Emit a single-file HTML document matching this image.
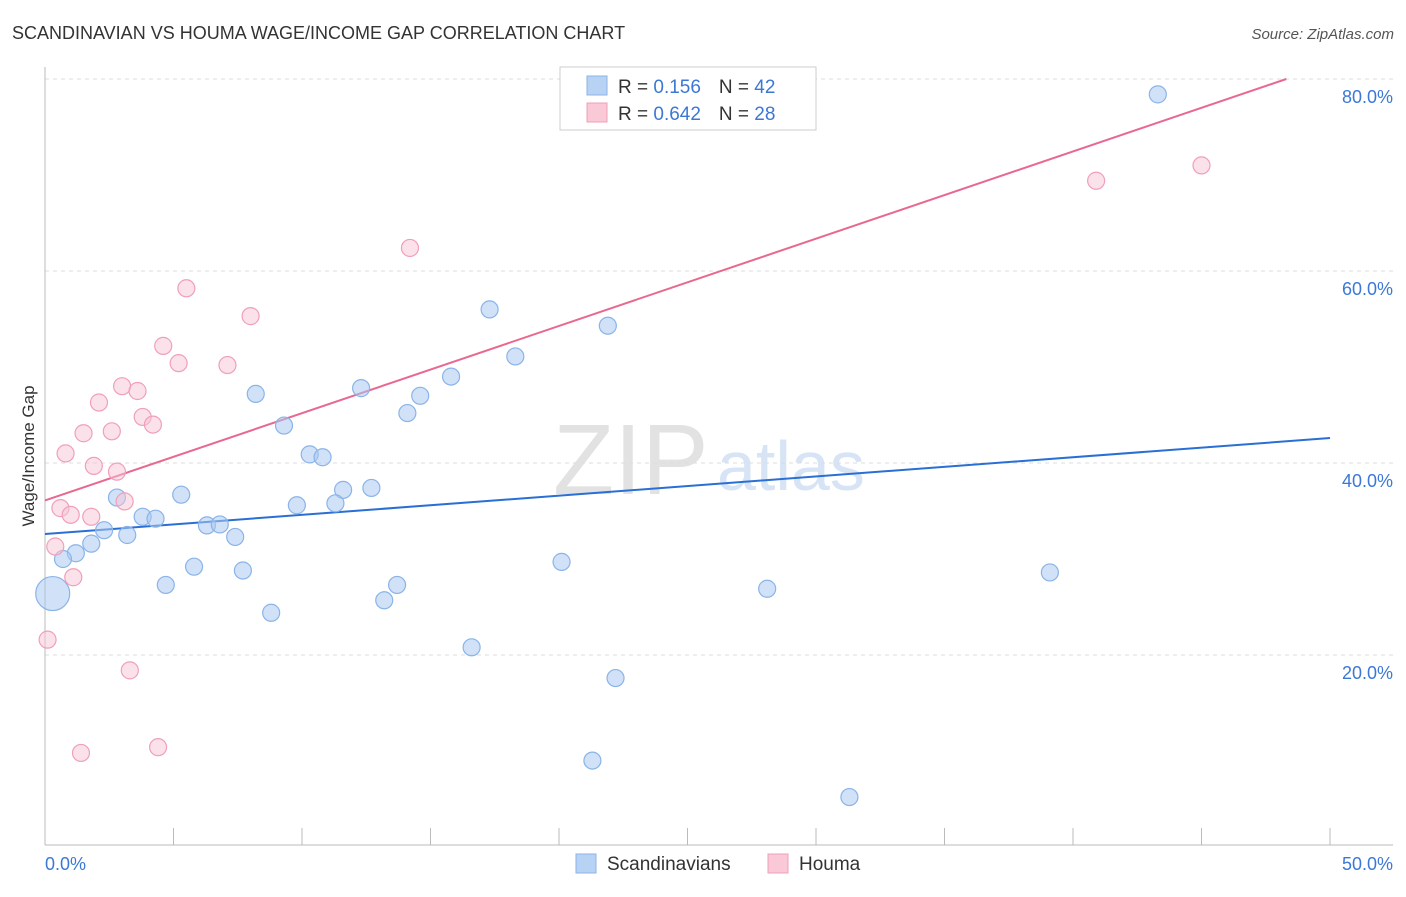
<!DOCTYPE html>
<html><head><meta charset="utf-8"><style>
body{margin:0;background:#fff;font-family:"Liberation Sans",sans-serif;}
svg text{font-family:"Liberation Sans",sans-serif;}
</style></head><body>
<svg id="chart" width="1406" height="892" viewBox="0 0 1406 892">
<text x="12" y="39" font-size="18" fill="#333">SCANDINAVIAN VS HOUMA WAGE/INCOME GAP CORRELATION CHART</text>
<text x="1394" y="39" font-size="15" fill="#555" font-style="italic" text-anchor="end">Source: ZipAtlas.com</text>
<g>
<text x="553" y="494" font-size="100" font-family="Liberation Serif" fill="#e2e2e2">ZIP</text>
<text x="717" y="490" font-size="70" fill="#d6e4f5">atlas</text>
</g>
<g id="grid"></g>
<g id="axes"></g>
<text x="34" y="456" font-size="17" fill="#333" text-anchor="middle" transform="rotate(-90 34 456)">Wage/Income Gap</text>
<g id="lines"></g>
<g id="points"></g>
<g>
<rect x="560" y="67" width="256" height="63" fill="#fff" stroke="#ccc"/>
<rect x="587" y="76" width="20" height="19" fill="#b8d2f4" stroke="#8ab4e8"/>
<text x="618" y="93" font-size="19" fill="#333">R = <tspan fill="#3b78d6">0.156</tspan><tspan dx="18">N = </tspan><tspan fill="#3b78d6">42</tspan></text>
<rect x="587" y="103" width="20" height="19" fill="#f9c9d8" stroke="#f0a0b8"/>
<text x="618" y="120" font-size="19" fill="#333">R = <tspan fill="#3b78d6">0.642</tspan><tspan dx="18">N = </tspan><tspan fill="#3b78d6">28</tspan></text>
</g>
<g>
<rect x="576" y="854" width="20" height="19" fill="#b8d2f4" stroke="#8ab4e8"/>
<text x="607" y="870" font-size="19" fill="#333">Scandinavians</text>
<rect x="768" y="854" width="20" height="19" fill="#f9c9d8" stroke="#f0a0b8"/>
<text x="799" y="870" font-size="19" fill="#333">Houma</text>
</g>
</svg>
<script>
const xTicksLabels=["0.0%","50.0%"];
const yTickValues=[20,40,60,80];
const blueX=[43.3,17.3,21.9,18.3,15.8,12.3,14.6,8.2,14.1,9.3,10.3,10.8,5.3,2.8,11.6,12.7,9.8,11.3,3.8,4.3,2.3,6.3,6.8,3.2,7.4,1.8,1.2,0.7,0.3,5.8,7.7,4.7,13.7,13.2,8.8,20.1,28.1,39.1,16.6,22.2,21.3,31.3];
const blueY=[78.4,56.0,54.3,51.1,49.0,47.8,47.0,47.2,45.2,43.9,40.9,40.6,36.7,36.4,37.2,37.4,35.6,35.8,34.4,34.2,33.0,33.5,33.6,32.5,32.3,31.6,30.6,30.0,26.4,29.2,28.8,27.3,27.3,25.7,24.4,29.7,26.9,28.6,20.8,17.6,9.0,5.2];
const pinkX=[14.2,5.5,8.0,4.6,5.2,7.1,3.0,3.6,2.1,3.8,4.2,2.6,1.5,0.8,1.9,2.8,3.1,0.6,1.0,1.8,0.4,1.1,0.1,3.3,4.4,1.4,40.9,45.0];
const pinkY=[62.4,58.2,55.3,52.2,50.4,50.2,48.0,47.5,46.3,44.8,44.0,43.3,43.1,41.0,39.7,39.1,36.0,35.3,34.6,34.4,31.3,28.1,21.6,18.4,10.4,9.8,69.4,71.0];
const blueTrend=[32.6,42.6];
const pinkTrend=[36.1,80];
const NS="http://www.w3.org/2000/svg";
const sx=v=>45+v*25.7, sy=v=>847-v*9.6;
function mk(tag,attrs,parent){const e=document.createElementNS(NS,tag);for(const k in attrs)e.setAttribute(k,attrs[k]);parent.appendChild(e);return e;}
const grid=document.getElementById('grid'),axes=document.getElementById('axes'),lines=document.getElementById('lines'),pts=document.getElementById('points');
yTickValues.forEach(v=>{
 const l=mk('line',{x1:45,x2:1393,y1:sy(v),y2:sy(v),stroke:'#ddd','stroke-dasharray':'4,4'},grid);
 
 
 const t=mk('text',{x:1393,y:sy(v)+24,'font-size':18,fill:'#3b78d6','text-anchor':'end'},axes);
 t.textContent=v.toFixed(1)+'%';
 
 
});
const ax=mk('line',{x1:45,x2:45,y1:67,y2:845,stroke:'#bbb'},axes);


const bx=mk('line',{x1:45,x2:1393,y1:845,y2:845,stroke:'#bbb'},axes);


for(let i=0;i<=10;i++){
 const t=mk('line',{x1:sx(i*5),x2:sx(i*5),y1:828,y2:845,stroke:'#bbb'},axes);
 
 
}
const xl0=mk('text',{x:45,y:870,'font-size':18,fill:'#3b78d6'},axes);xl0.textContent=xTicksLabels[0];


const xl1=mk('text',{x:1393,y:870,'font-size':18,fill:'#3b78d6','text-anchor':'end'},axes);xl1.textContent=xTicksLabels[1];


const bl=mk('line',{x1:sx(0),y1:sy(blueTrend[0]),x2:sx(50),y2:sy(blueTrend[1]),stroke:'#2a6fd4','stroke-width':2},lines);


const pl=mk('line',{x1:sx(0),y1:sy(pinkTrend[0]),x2:sx(48.3),y2:sy(pinkTrend[1]),stroke:'#e8688f','stroke-width':2},lines);


blueX.forEach((x,i)=>{
 const c=mk('circle',{cx:sx(x),cy:sy(blueY[i]),r:i===28?17:8.5,fill:'rgba(170,200,242,0.55)',stroke:'#8ab4e8','stroke-width':1.2},pts);
 
 
});
pinkX.forEach((x,i)=>{
 const c=mk('circle',{cx:sx(x),cy:sy(pinkY[i]),r:8.5,fill:'rgba(248,196,214,0.5)',stroke:'#f0a0b8','stroke-width':1.2},pts);
 
 
});
</script>
</body></html>
